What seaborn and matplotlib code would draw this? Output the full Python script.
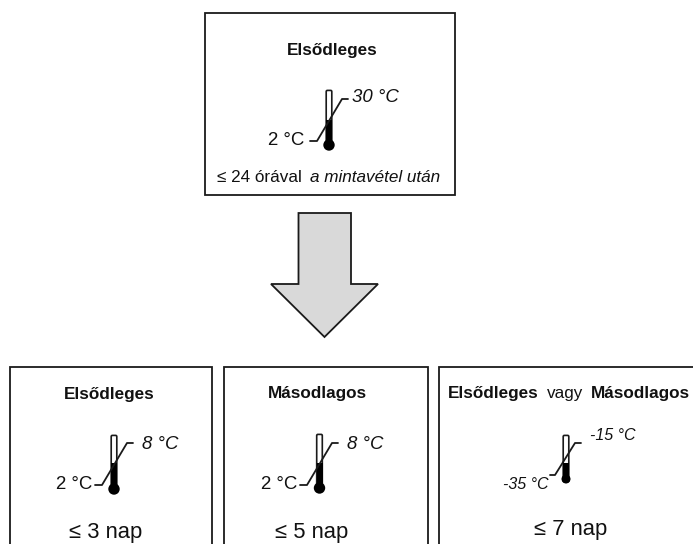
import matplotlib.pyplot as plt
import seaborn as sns
from matplotlib.patches import Circle, FancyBboxPatch, Polygon, Rectangle

# === Text and values ===
box_titles = ["Elsődleges", "Elsődleges", "Másodlagos"]
top_low, top_high = "2 °C", "30 °C"
low_labels = ["2 °C", "2 °C", "-35 °C"]
high_labels = ["8 °C", "8 °C", "-15 °C"]
time_labels = ["≤ 3 nap", "≤ 5 nap", "≤ 7 nap"]

# === Figure in pixel coordinates ===
sns.set_theme(style="white")
plt.rcParams["font.family"] = ["Liberation Sans", "DejaVu Sans"]
fig = plt.figure(figsize=(6.93, 5.44), dpi=100)
ax = fig.add_axes([0, 0, 1, 1])
ax.set_xlim(0, 693)
ax.set_ylim(544, 0)
ax.axis("off")

DARK = "#1a1a1a"


def txt(x, y, s, size, weight="normal", style="normal", ha="left"):
    return ax.text(x, y, s, fontsize=size, fontweight=weight, fontstyle=style,
                   ha=ha, va="baseline", color="#111111")


def box(x0, y0, x1, y1):
    ax.add_patch(Rectangle((x0, y0), x1 - x0, y1 - y0, fc="white", ec=DARK, lw=1.3))


def thermo(cx, top, fill_y, bulb_y, r, lead):
    # tube outline, black lower part, bulb, then the leader line
    ax.add_patch(FancyBboxPatch((cx - 1.6, top + 1.6), 3.2, bulb_y - top, boxstyle="round,pad=1.2",
                                fc="white", ec=DARK, lw=1.2, zorder=3))
    ax.add_patch(Rectangle((cx - 3, fill_y), 6, bulb_y - fill_y, fc="black", ec="black", lw=0, zorder=4))
    ax.add_patch(Circle((cx, bulb_y), r, fc="black", ec="black", lw=0, zorder=5))
    xs, ys = zip(*lead)
    ax.plot(xs, ys, color=DARK, lw=1.3, zorder=6)


# === Top box ===
box(204.5, 12.5, 454.5, 194.5)
txt(332.5, 55, box_titles[0], 12.3, weight="bold", ha="center")
thermo(329, 90, 120, 145, 5.7, [(310, 141), (317, 141), (342, 99), (348, 99)])
txt(352, 102, top_high, 13.4, style="italic")
txt(268, 145, top_low, 13.4)
txt(217, 182, "≤ 24 órával", 12.3)
txt(310, 182, "a mintavétel után", 12.3, style="italic")

# === Arrow ===
ax.add_patch(Polygon([(298.5, 213), (351, 213), (351, 284), (378, 284), (324.5, 337),
                      (271, 284), (298.5, 284)], closed=True, fc="#d9d9d9", ec=DARK, lw=1.3))

# === Bottom boxes ===
box(10, 367, 212, 560)
box(224, 367, 428, 560)
box(438.5, 367, 700, 560)

txt(109.5, 399, box_titles[1], 12.3, weight="bold", ha="center")
txt(317.5, 398, box_titles[2], 12.3, weight="bold", ha="center")
txt(448, 398, box_titles[1], 12.3, weight="bold")
txt(547, 398, "vagy", 12.3)
txt(591, 398, box_titles[2], 12.3, weight="bold")

thermo(114, 435, 463, 489, 5.7, [(95, 485), (102, 485), (127, 443), (133, 443)])
thermo(319.5, 434, 463, 488, 5.7, [(300, 485), (307, 485), (332, 443), (338, 443)])
thermo(566, 435, 463, 479, 4.5, [(550, 475), (555, 475), (575, 443), (581, 443)])

txt(142, 449, high_labels[0], 13.4, style="italic")
txt(56, 489, low_labels[0], 13.4)
txt(347, 449, high_labels[1], 13.4, style="italic")
txt(261, 489, low_labels[1], 13.4)
txt(590, 440, high_labels[2], 11.5, style="italic")
txt(503, 489, low_labels[2], 11.5, style="italic")

txt(106, 538, time_labels[0], 15.8, ha="center")
txt(312, 538, time_labels[1], 15.8, ha="center")
txt(570.5, 535, time_labels[2], 15.8, ha="center")

fig.savefig("out.png", dpi=100)
